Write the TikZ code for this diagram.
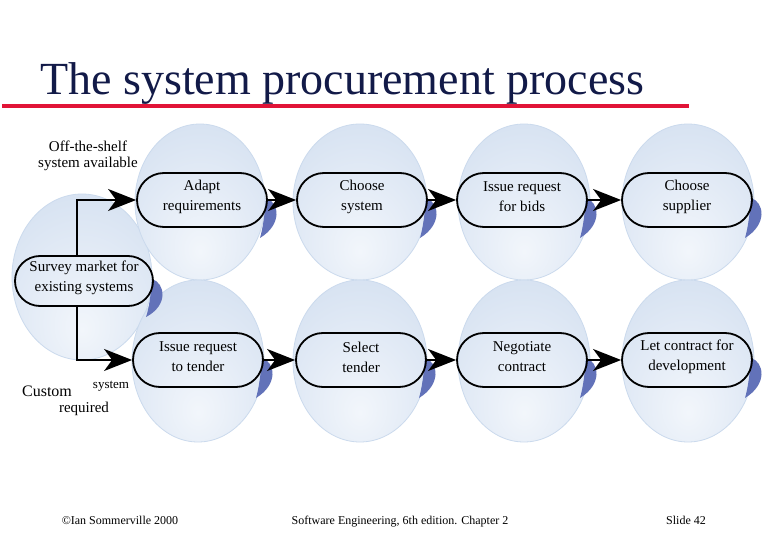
\documentclass[tikz,border=0pt]{standalone}
\usepackage{fontspec}
\setmainfont{Liberation Serif}
\usetikzlibrary{arrows.meta}
\definecolor{navy}{RGB}{18,26,72}
\definecolor{redline}{RGB}{225,20,55}
\definecolor{shadowblue}{RGB}{98,114,185}
\definecolor{bubin}{RGB}{242,246,251}
\definecolor{bubmid}{RGB}{227,235,246}
\definecolor{bubout}{RGB}{203,218,237}
\pgfdeclareradialshading{bubble}{\pgfpoint{0bp}{-16bp}}{color(0bp)=(bubin); color(20bp)=(bubmid); color(52bp)=(bubout); color(100bp)=(bubout)}
\tikzset{
  procbox/.style={draw, line width=1.8pt, rectangle, inner sep=0pt},
  boxtext/.style={inner sep=0pt, align=center, font=\fontsize{15}{20}\selectfont},
  arr/.style={line width=1.8pt, -{Stealth[length=28pt,width=22pt,inset=8pt]}},
  lbl/.style={inner sep=0pt, font=\fontsize{15}{18}\selectfont},
  foot/.style={inner sep=0pt, anchor=base, font=\fontsize{12}{14}\selectfont},
}
\newcommand\bubblefill[4]{\path[shading=bubble, draw=bubout, line width=0.8pt] (#1,#2) ellipse [x radius=#3pt, y radius=#4pt];}
% name, cx, cy, half width, half height, text
\newcommand\pbox[6]{%
  \fill[shadowblue] (#2+#4-1,#3-2) .. controls (#2+#4+12,#3+2) and (#2+#4+16,#3+24) .. (#2+#4-7,#3+#5+11)
     .. controls (#2+#4-4,#3+28) and (#2+#4-2,#3+12) .. cycle;
  \node[procbox, rounded corners=#5pt, minimum width={2*#4pt}, minimum height={2*#5pt}] (#1) at (#2,#3) {};
  \node[boxtext] (#1-t) at (#2,#3-3) {#6};}
\begin{document}
\begin{tikzpicture}[x=1pt,y=-1pt]
\useasboundingbox[fill=white] (0,0) rectangle (780,540);
% title
\node[anchor=base west, inner sep=0pt, text=navy, font=\fontsize{46}{50}\selectfont] (title) at (40,95) {The system procurement process};
\draw[redline, line width=4pt] (2,106) -- (689,106);
% bubbles
\bubblefill{82}{277}{70}{83}
\bubblefill{200}{202}{65}{78}
\bubblefill{360}{202}{67}{78}
\bubblefill{524}{202}{66}{78}
\bubblefill{688}{202}{66}{78}
\bubblefill{198}{361}{66}{81}
\bubblefill{360}{361}{67}{81}
\bubblefill{524}{361}{66}{81}
\bubblefill{688}{361}{66}{81}
% boxes
\pbox{survey}{84}{281}{69}{25}{Survey market for\\existing systems}
\pbox{adapt}{202}{200}{65}{27}{Adapt\\requirements}
\pbox{choose}{362}{200}{65}{27}{Choose\\system}
\pbox{bids}{522}{200}{65}{27}{Issue request\\for bids}
\pbox{supplier}{687}{200}{65}{27}{Choose\\supplier}
\pbox{tender}{198}{360}{65}{27}{Issue request\\to tender}
\pbox{select}{361}{360}{65}{27}{Select\\tender}
\pbox{negotiate}{522}{360}{65}{27}{Negotiate\\contract}
\pbox{contract}{687}{360}{65}{27}{Let contract for\\development}
% connectors
\draw[arr] ([xshift=-7pt]survey.north) |- (adapt.west);
\draw[arr] ([xshift=-7pt]survey.south) |- (tender.west);
\draw[arr] (adapt.east) -- (choose.west);
\draw[arr] (choose.east) -- (bids.west);
\draw[arr] (bids.east) -- (supplier.west);
\draw[arr] (tender.east) -- (select.west);
\draw[arr] (select.east) -- (negotiate.west);
\draw[arr] (negotiate.east) -- (contract.west);
% labels
\node[lbl] (l1) at (88,146) {Off-the-shelf};
\node[lbl] (l2) at (88,164) {system available};
\node[lbl, font=\fontsize{16}{18}\selectfont] (l3) at (47,391) {Custom};
\node[lbl, font=\fontsize{13}{15}\selectfont] (l4) at (111,386) {system};
\node[lbl] (l5) at (84,409) {required};
% footer
\node[foot] (f1) at (120,524) {©Ian Sommerville 2000};
\node[foot] (f2) at (400,524) {Software Engineering, 6th edition. Chapter 2};
\node[foot] (f3) at (686,524) {Slide 42};
\end{tikzpicture}
\end{document}
